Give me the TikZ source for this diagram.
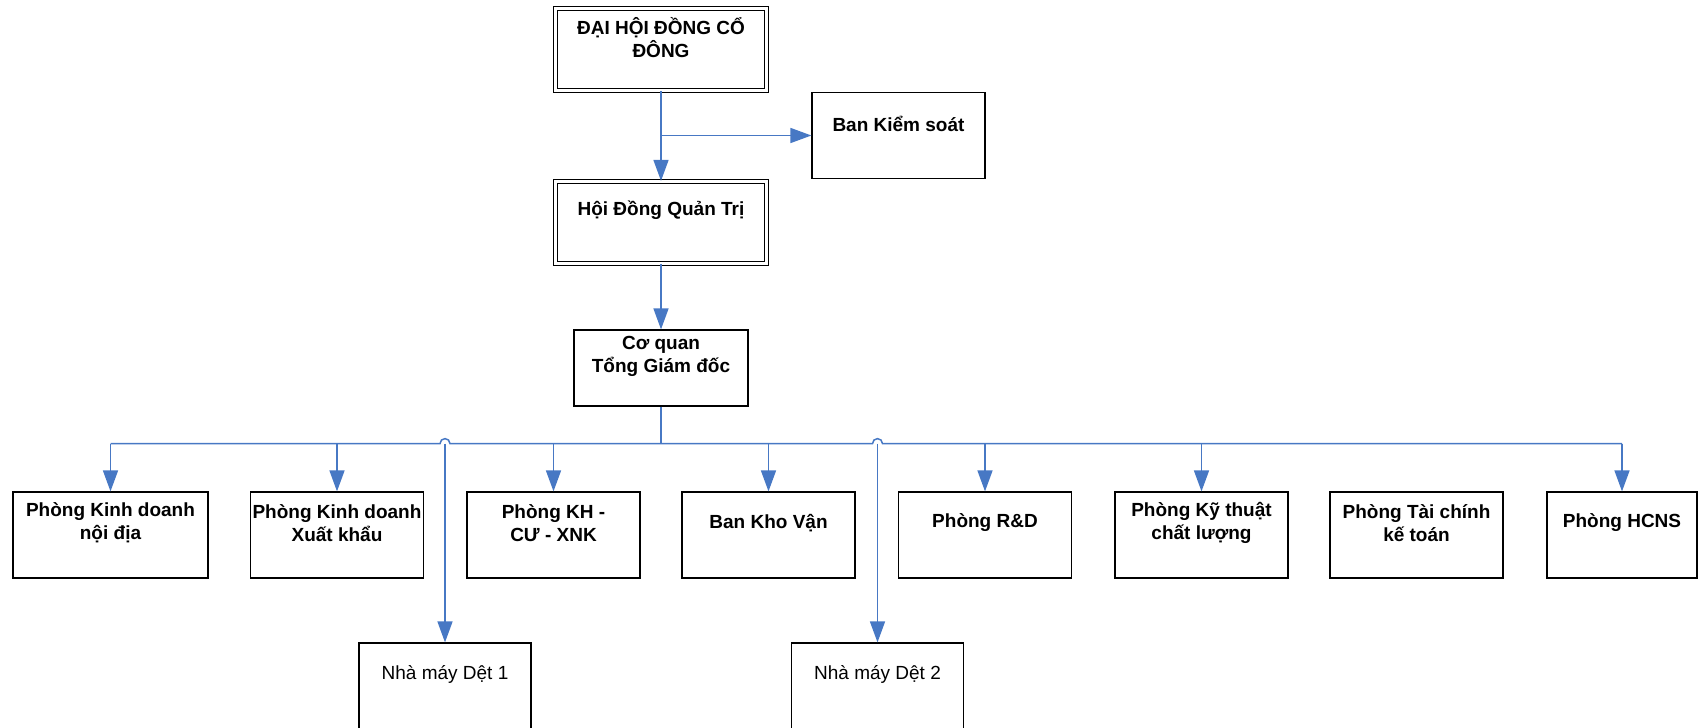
\documentclass[tikz,border=0pt]{standalone}
\usepackage{fontspec}
\setmainfont{Liberation Sans}
\usetikzlibrary{arrows.meta}
\definecolor{linkblue}{RGB}{71,120,196}

\begin{document}
\begin{tikzpicture}[x=1pt, y=-1pt,
  box/.style = {draw, line width=1.2pt, minimum width=173pt, minimum height=86pt,
    label={[font=\fontsize{19}{23}\selectfont\bfseries, align=center,
      yshift=12pt]center:#1}},
  dbox/.style = {box={#1}, double, double distance=3.2pt, line width=1.2pt,
    minimum width=211pt, minimum height=82pt},
  unit/.style = {draw, line width=1.2pt, minimum width=172pt, minimum height=86pt,
    label={[font=\fontsize{19}{23}\selectfont, yshift=12pt]center:#1}},
  link/.style = {draw=linkblue, line width=1.5pt},
  arrow/.style = {link, -{Triangle[length=21pt, width=15pt]}}]
  \useasboundingbox (0,0) rectangle (1698,728);

  \node[dbox={ĐẠI HỘI ĐỒNG CỔ\\ĐÔNG}] (dhcd) at (661,49.5) {};
  \node[box={Ban Kiểm soát}] (bks) at (898.5,135.5) {};
  \node[dbox={Hội Đồng Quản Trị}] (hdqt) at (661,222.5) {};
  \node[box={Cơ quan\\Tổng Giám đốc}, minimum width=174pt,
    minimum height=76pt] (cqtgd) at (661,368) {};

  \node[box={Phòng Kinh doanh\\nội địa}, minimum width=195pt] (kd1) at (110.5,535) {};
  \node[box={Phòng Kinh doanh\\Xuất khẩu}] (kd2) at (337,535) {};
  \node[box={Phòng KH -\\CƯ - XNK}] (khcu) at (553.5,535) {};
  \node[box={Ban Kho Vận}] (khovan) at (768.5,535) {};
  \node[box={Phòng R\&D}] (rd) at (985,535) {};
  \node[box={Phòng Kỹ thuật\\chất lượng}] (ktcl) at (1201.5,535) {};
  \node[box={Phòng Tài chính\\kế toán}] (tckt) at (1416.5,535) {};
  \node[box={Phòng HCNS}, minimum width=150pt] (hcns) at (1622,535) {};

  \node[unit={Nhà máy Dệt 1}] (nm1) at (445,686) {};
  \node[unit={Nhà máy Dệt 2}] (nm2) at (877.5,686) {};

  \draw[arrow] (dhcd) -- (hdqt);
  \coordinate (split) at (dhcd.south |- bks.west);
  \draw[arrow] (split) -- (bks.west);
  \draw[arrow] (hdqt) -- (cqtgd);

  \coordinate (bus) at ([yshift=-37pt]cqtgd.south);
  \coordinate (hop1) at (bus -| nm1.north);
  \coordinate (hop2) at (bus -| nm2.north);
  \draw[link] (cqtgd.south) -- (bus);
  \draw[link] (bus -| kd1.north) -- ([xshift=-5pt]hop1)
    arc[start angle=180, end angle=0, radius=5pt] -- ([xshift=-5pt]hop2)
    arc[start angle=180, end angle=0, radius=5pt] -- (bus -| hcns.north);
  \foreach \n in {kd1,kd2,khcu,khovan,rd,ktcl,hcns,nm1,nm2}
    \draw[arrow] (bus -| \n.north) -- (\n.north);
\end{tikzpicture}
\end{document}
